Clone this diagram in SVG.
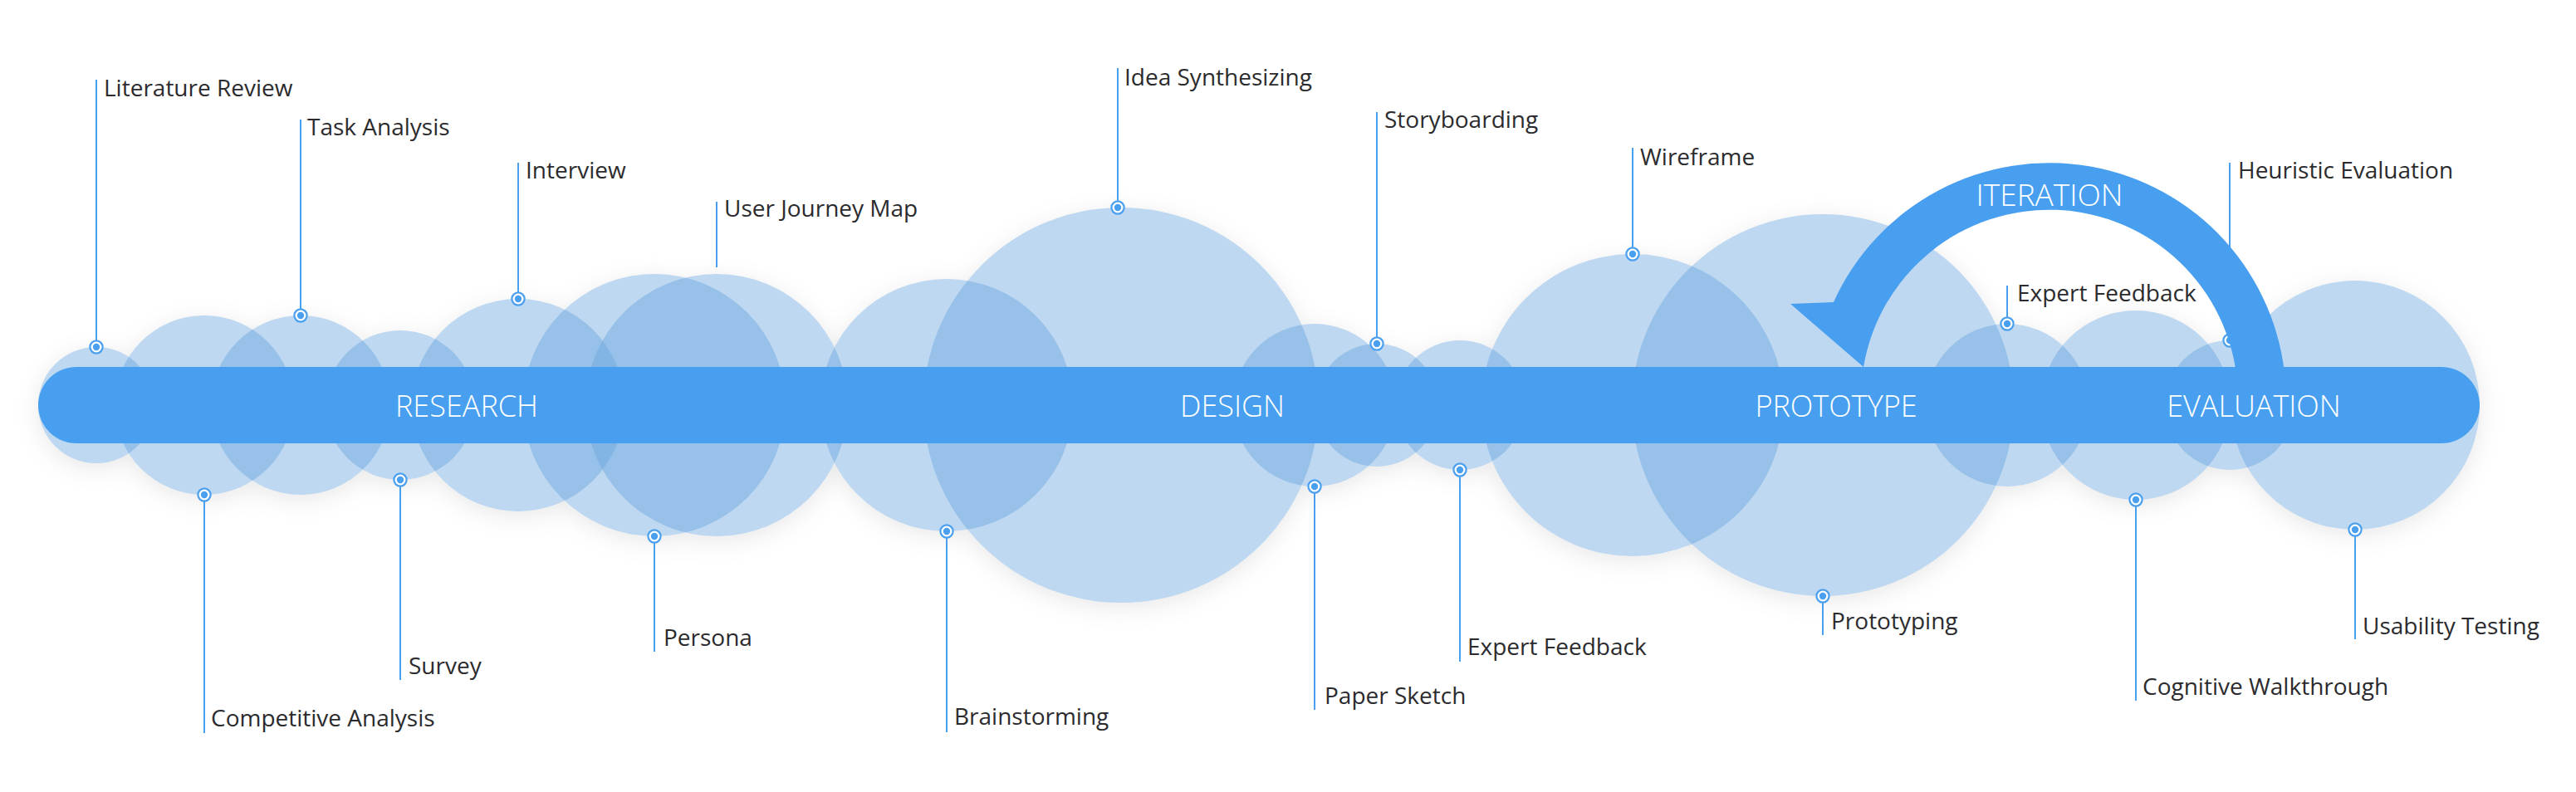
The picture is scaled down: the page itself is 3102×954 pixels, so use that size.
<svg xmlns="http://www.w3.org/2000/svg" width="3102" height="954" viewBox="0 0 3102 954">
<defs>
<style>
.bub{fill:#63A3DE;fill-opacity:0.42}
.shd{fill:#000}
.ln{stroke:#4A9FEE;stroke-width:2;fill:none}
.ring{fill:#fff;stroke:#4A9FEE;stroke-width:2.2}
.pip{fill:#4A9FEE}
.lbl{font-family:"Open Sans","Liberation Sans",sans-serif;font-size:28px;font-weight:400;fill:#2b2b2e}
.phase{font-family:"Open Sans","Liberation Sans",sans-serif;font-size:36px;font-weight:300;fill:#fff;text-anchor:middle}
.bar{fill:#489FEF}
</style>
<filter id="sh" x="-5%" y="-40%" width="110%" height="180%">
<feGaussianBlur in="SourceAlpha" stdDeviation="14"/>
<feOffset dy="6" result="b"/>
<feComposite in="b" in2="SourceAlpha" operator="out" result="o"/>
<feFlood flood-color="#000" flood-opacity="0.09"/>
<feComposite in2="o" operator="in"/>
</filter>
<g id="dot"><circle class="ring" r="7.6"/><circle class="pip" r="4.2"/></g>
</defs>
<rect width="3102" height="954" fill="#fff"/>
<g id="shadow" filter="url(#sh)" class="shd">
<circle cx="116" cy="488" r="70"/><circle cx="246" cy="488" r="108"/><circle cx="362" cy="488" r="108"/><circle cx="482" cy="488" r="90"/><circle cx="624" cy="488" r="128"/><circle cx="788" cy="488" r="158"/><circle cx="863" cy="488" r="158"/><circle cx="1140" cy="488" r="152"/><circle cx="1350" cy="488" r="238"/><circle cx="1583" cy="488" r="98"/><circle cx="1658" cy="488" r="74"/><circle cx="1758" cy="488" r="78"/><circle cx="1966" cy="488" r="182"/><circle cx="2195" cy="488" r="230"/><circle cx="2417" cy="488" r="98"/><circle cx="2572" cy="488" r="114"/><circle cx="2685" cy="488" r="78"/><circle cx="2836" cy="488" r="150"/>
</g>
<g id="bubbles">
<circle id="b-literature-review" class="bub" cx="116" cy="488" r="70"/>
<circle id="b-competitive-analysis" class="bub" cx="246" cy="488" r="108"/>
<circle id="b-task-analysis" class="bub" cx="362" cy="488" r="108"/>
<circle id="b-survey" class="bub" cx="482" cy="488" r="90"/>
<circle id="b-interview" class="bub" cx="624" cy="488" r="128"/>
<circle id="b-persona" class="bub" cx="788" cy="488" r="158"/>
<circle id="b-user-journey-map" class="bub" cx="863" cy="488" r="158"/>
<circle id="b-brainstorming" class="bub" cx="1140" cy="488" r="152"/>
<circle id="b-idea-synthesizing" class="bub" cx="1350" cy="488" r="238"/>
<circle id="b-paper-sketch" class="bub" cx="1583" cy="488" r="98"/>
<circle id="b-storyboarding" class="bub" cx="1658" cy="488" r="74"/>
<circle id="b-expert-feedback-1" class="bub" cx="1758" cy="488" r="78"/>
<circle id="b-wireframe" class="bub" cx="1966" cy="488" r="182"/>
<circle id="b-prototyping" class="bub" cx="2195" cy="488" r="230"/>
<circle id="b-expert-feedback-2" class="bub" cx="2417" cy="488" r="98"/>
<circle id="b-cognitive-walkthrough" class="bub" cx="2572" cy="488" r="114"/>
<circle id="b-heuristic-evaluation" class="bub" cx="2685" cy="488" r="78"/>
<circle id="b-usability-testing" class="bub" cx="2836" cy="488" r="150"/>
</g>
<g id="connectors" class="ln">
<line x1="116" y1="96" x2="116" y2="418"/>
<line x1="362" y1="144" x2="362" y2="380"/>
<line x1="624" y1="196" x2="624" y2="360"/>
<line x1="863" y1="243" x2="863" y2="322"/>
<line x1="1346" y1="82" x2="1346" y2="250"/>
<line x1="1658" y1="135" x2="1658" y2="414"/>
<line x1="1966" y1="178" x2="1966" y2="306"/>
<line x1="2417" y1="344" x2="2417" y2="390"/>
<line x1="2685" y1="196" x2="2685" y2="410"/>
<line x1="246" y1="596" x2="246" y2="883"/>
<line x1="482" y1="578" x2="482" y2="819"/>
<line x1="788" y1="646" x2="788" y2="785"/>
<line x1="1140" y1="640" x2="1140" y2="882"/>
<line x1="1583" y1="586" x2="1583" y2="855"/>
<line x1="1758" y1="566" x2="1758" y2="797"/>
<line x1="2195" y1="718" x2="2195" y2="765"/>
<line x1="2572" y1="602" x2="2572" y2="844"/>
<line x1="2836" y1="638" x2="2836" y2="770"/>
</g>
<g id="n-literature-review"><use href="#dot" x="116" y="418"/><text class="lbl" x="125" y="116">Literature Review</text></g>
<g id="n-task-analysis"><use href="#dot" x="362" y="380"/><text class="lbl" x="370" y="163">Task Analysis</text></g>
<g id="n-interview"><use href="#dot" x="624" y="360"/><text class="lbl" x="633" y="215">Interview</text></g>
<g id="n-user-journey-map"><text class="lbl" x="872" y="261">User Journey Map</text></g>
<g id="n-idea-synthesizing"><use href="#dot" x="1346" y="250"/><text class="lbl" x="1354" y="103">Idea Synthesizing</text></g>
<g id="n-storyboarding"><use href="#dot" x="1658" y="414"/><text class="lbl" x="1667" y="154">Storyboarding</text></g>
<g id="n-wireframe"><use href="#dot" x="1966" y="306"/><text class="lbl" x="1975" y="199">Wireframe</text></g>
<g id="n-expert-feedback-2"><use href="#dot" x="2417" y="390"/><text class="lbl" x="2429" y="363">Expert Feedback</text></g>
<g id="n-heuristic-evaluation"><use href="#dot" x="2685" y="410"/><text class="lbl" x="2695" y="215">Heuristic Evaluation</text></g>
<g id="n-competitive-analysis"><use href="#dot" x="246" y="596"/><text class="lbl" x="254" y="875">Competitive Analysis</text></g>
<g id="n-survey"><use href="#dot" x="482" y="578"/><text class="lbl" x="492" y="812">Survey</text></g>
<g id="n-persona"><use href="#dot" x="788" y="646"/><text class="lbl" x="799" y="778">Persona</text></g>
<g id="n-brainstorming"><use href="#dot" x="1140" y="640"/><text class="lbl" x="1149" y="873">Brainstorming</text></g>
<g id="n-paper-sketch"><use href="#dot" x="1583" y="586"/><text class="lbl" x="1595" y="848">Paper Sketch</text></g>
<g id="n-expert-feedback-1"><use href="#dot" x="1758" y="566"/><text class="lbl" x="1767" y="789">Expert Feedback</text></g>
<g id="n-prototyping"><use href="#dot" x="2195" y="718"/><text class="lbl" x="2205" y="758">Prototyping</text></g>
<g id="n-cognitive-walkthrough"><use href="#dot" x="2572" y="602"/><text class="lbl" x="2580" y="837">Cognitive Walkthrough</text></g>
<g id="n-usability-testing"><use href="#dot" x="2836" y="638"/><text class="lbl" x="2845" y="764">Usability Testing</text></g>
<g id="timeline">
<rect class="bar" x="46" y="442" width="2940" height="92" rx="46" ry="46"/>
<text class="phase" x="562" y="502">RESEARCH</text>
<text class="phase" x="1484" y="502">DESIGN</text>
<text class="phase" x="2211" y="502">PROTOTYPE</text>
<text class="phase" x="2714" y="502">EVALUATION</text>
</g>
<g id="iteration">
<path class="bar" d="M2752 460 A285 285 0 0 0 2208 364 L2156 366 L2244 442 A227 227 0 0 1 2694 460 Z"/>
<text class="phase" x="2468" y="248" style="font-size:37px">ITERATION</text>
</g>
</svg>
